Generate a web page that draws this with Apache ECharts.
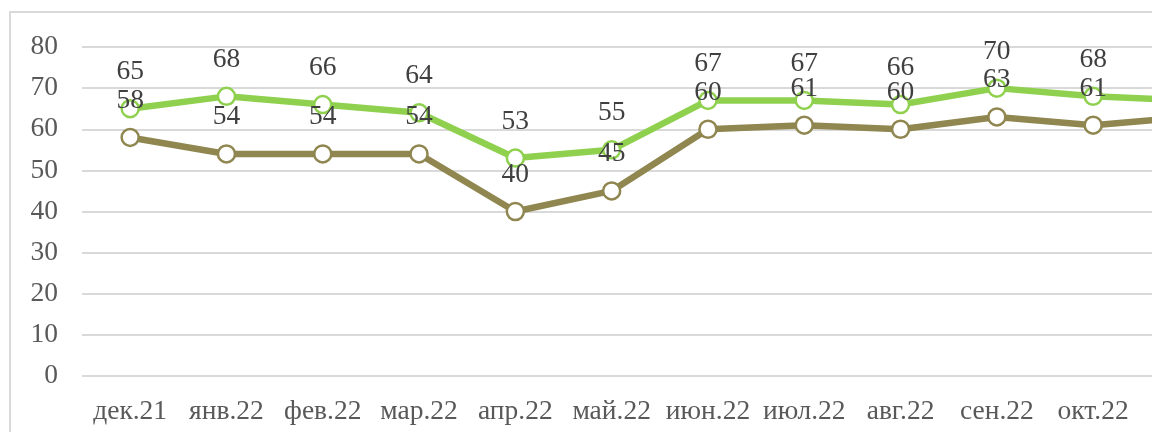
<!DOCTYPE html>
<html>
<head>
<meta charset="utf-8">
<script src="https://cdn.jsdelivr.net/npm/echarts@6/dist/echarts.min.js"></script>
<style>
  html, body { margin: 0; padding: 0; width: 1152px; height: 432px; overflow: hidden; background: #fff; }
  #frame { position: absolute; left: 9px; top: 11px; width: 1300px; height: 440px; border: 2px solid #d9d9d9; box-sizing: border-box; }
  #chart { position: absolute; left: 0; top: 0; width: 1300px; height: 432px; }
</style>
</head>
<body>
<div id="frame"></div>
<div id="chart"></div>
<script>
// Monthly index, two series
const months = ['дек.21', 'янв.22', 'фев.22', 'мар.22', 'апр.22', 'май.22', 'июн.22', 'июл.22', 'авг.22', 'сен.22', 'окт.22', 'ноя.22'];
const seriesGreen = [65, 68, 66, 64, 53, 55, 67, 67, 66, 70, 68, 67];
const seriesOlive = [58, 54, 54, 54, 40, 45, 60, 61, 60, 63, 61, 63];
const yTicks = [0, 10, 20, 30, 40, 50, 60, 70, 80];

const font = '"Liberation Serif", "Times New Roman", serif';

function lineSeries(name, data, color) {
  return {
    name: name,
    type: 'line',
    data: data,
    symbol: 'circle',
    symbolSize: 17,
    lineStyle: { color: color, width: 6.5 },
    itemStyle: { color: '#ffffff', borderColor: color, borderWidth: 2.5 },
    label: {
      show: true,
      position: 'top',
      distance: 13,
      color: '#404040',
      fontFamily: font,
      fontSize: 27.5
    },
    emphasis: { disabled: true },
    animation: false
  };
}

const chart = echarts.init(document.getElementById('chart'), null, { renderer: 'canvas' });
chart.setOption({
  backgroundColor: 'transparent',
  grid: { left: 82, right: 62.4, top: 47, bottom: 56, containLabel: false },
  xAxis: {
    type: 'category',
    data: months,
    boundaryGap: true,
    axisLine: { show: false },
    axisTick: { show: false },
    axisLabel: { color: '#595959', fontFamily: font, fontSize: 27.5, margin: 22, interval: 0 }
  },
  yAxis: {
    type: 'value',
    min: yTicks[0],
    max: yTicks[yTicks.length - 1],
    interval: 10,
    axisLine: { show: false },
    axisTick: { show: false },
    splitLine: { lineStyle: { color: '#d9d9d9', width: 2 } },
    axisLabel: { color: '#595959', fontFamily: font, fontSize: 27.5, margin: 24 }
  },
  series: [
    lineSeries('olive', seriesOlive, '#8f8650'),
    lineSeries('green', seriesGreen, '#8fd14f')
  ]
});
</script>
</body>
</html>
